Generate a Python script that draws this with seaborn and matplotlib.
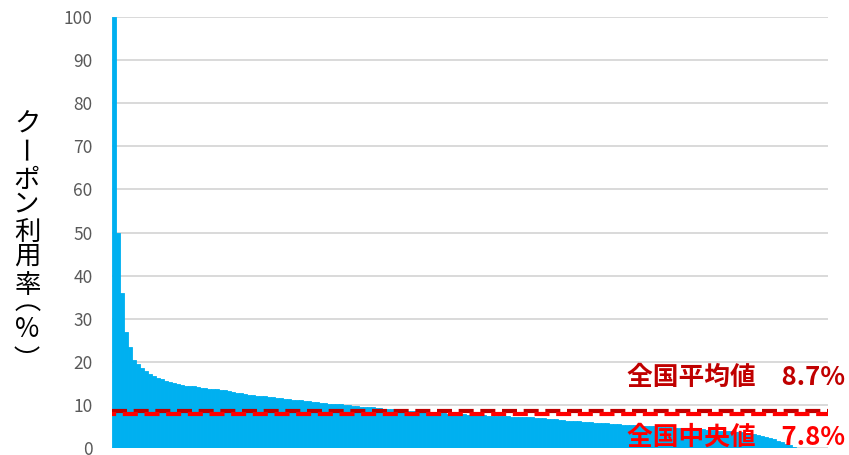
import matplotlib
matplotlib.use("Agg")
import matplotlib.pyplot as plt
import numpy as np
import pandas as pd
import seaborn as sns

# ---- data (one value per bar, sorted descending) ----
rates = [
    100, 50, 36, 27, 23.5, 20.5, 19.5, 18.6, 17.9, 17.2,
    16.8, 16.3, 16.0, 15.6, 15.3, 15.1, 14.8, 14.6, 14.5, 14.4,
    14.3, 14.2, 14.0, 13.9, 13.8, 13.7, 13.6, 13.5, 13.4, 13.2,
    13.0, 12.8, 12.7, 12.5, 12.3, 12.2, 12.1, 12.0, 11.95, 11.9,
    11.8, 11.7, 11.55, 11.45, 11.35, 11.25, 11.15, 11.1, 11.0, 10.85,
    10.7, 10.6, 10.5, 10.4, 10.3, 10.3, 10.2, 10.1, 10.0, 9.9,
    9.8, 9.7, 9.6, 9.6, 9.5, 9.4, 9.3, 9.2, 9.1, 9.0,
    8.95, 8.9, 8.8, 8.75, 8.7, 8.6, 8.55, 8.5, 8.4, 8.35,
    8.3, 8.2, 8.15, 8.1, 8.0, 7.95, 7.9, 7.85, 7.8, 7.75,
    7.7, 7.65, 7.6, 7.55, 7.5, 7.5, 7.45, 7.4, 7.4, 7.35,
    7.3, 7.3, 7.25, 7.2, 7.15, 7.1, 7.0, 6.95, 6.9, 6.8,
    6.75, 6.65, 6.55, 6.45, 6.35, 6.3, 6.2, 6.15, 6.1, 6.0,
    5.95, 5.9, 5.8, 5.75, 5.7, 5.6, 5.55, 5.5, 5.4, 5.35,
    5.3, 5.25, 5.2, 5.15, 5.1, 5.05, 5.0, 4.95, 4.9, 4.85,
    4.8, 4.7, 4.65, 4.6, 4.55, 4.5, 4.45, 4.4, 4.3, 4.25,
    4.2, 4.1, 4.05, 4.0, 3.9, 3.85, 3.8, 3.7, 3.6, 3.5,
    3.4, 3.3, 3.1, 2.9, 2.6, 2.3, 2.0, 1.7, 1.4, 1.0,
    0.7, 0.3, 0, 0, 0, 0, 0, 0, 0, 0,
]
mean_rate = 8.7
median_rate = 7.8
yticks = [0, 10, 20, 30, 40, 50, 60, 70, 80, 90, 100]
ylabel_chars = ["ク", "ー", "ポ", "ン", "利", "用", "率", "（", "%", "）"]
mean_label = "全国平均値　8.7%"
median_label = "全国中央値　7.8%"

# ---- style ----
sns.set_theme(style="white")
FAMILY = ["Noto Sans CJK JP", "DejaVu Sans"]
plt.rcParams["font.family"] = FAMILY

W, H, DPI = 849, 455, 100
LABEL_FS = 19


def ink_offset(ch, rot):
    """Offset (px, y down) of a glyph's ink centre from its text anchor."""
    f = plt.figure(figsize=(2, 2), dpi=DPI, facecolor="white")
    f.text(0.5, 0.5, ch, ha="center", va="center", rotation=rot,
           rotation_mode="anchor", fontsize=LABEL_FS, family=FAMILY,
           color="black")
    f.canvas.draw()
    buf = np.asarray(f.canvas.buffer_rgba())
    plt.close(f)
    mask = buf[..., :3].min(axis=2) < 160
    ys, xs = np.nonzero(mask)
    if len(xs) == 0:
        return 0.0, 0.0
    return (xs.min() + xs.max()) / 2 - 100, (ys.min() + ys.max()) / 2 - 100


fig = plt.figure(figsize=(W / DPI, H / DPI), dpi=DPI)
ax = fig.add_axes([112 / W, 7 / H, 716 / W, 431 / H])

df = pd.DataFrame({"rank": list(range(len(rates))), "rate": rates})
sns.barplot(data=df, x="rank", y="rate", color="#00B0F0", saturation=1,
            width=1.0, linewidth=0.6, edgecolor="#00B0F0", ax=ax, zorder=2)

ax.set_xlim(-0.5, len(rates) - 0.5)
ax.set_ylim(0, 100)
ax.set_yticks(yticks)
ax.set_yticklabels([str(t) for t in yticks])
ax.set_xticks([])
ax.set_xlabel("")
ax.set_ylabel("")
ax.grid(axis="y", color="#D9D9D9", linewidth=1.4)
ax.grid(axis="x", visible=False)
ax.set_axisbelow(True)
for s in ax.spines.values():
    s.set_visible(False)
ax.tick_params(axis="y", length=0, pad=14, labelsize=12.5, labelcolor="#595959")

# mean / median dashed lines
ax.axhline(mean_rate, color="#C00000", linewidth=3,
           linestyle=(0, (3.6, 1.6)), zorder=3)
ax.axhline(median_rate, color="#FF0000", linewidth=3,
           linestyle=(2.6, (3.6, 1.6)), zorder=3)

# annotations
fig.text(845 / W, 1 - 377 / H, mean_label, ha="right", va="center",
         fontsize=18.5, fontweight="bold", color="#C00000", zorder=5)
fig.text(845 / W, 1 - 437 / H, median_label, ha="right", va="center",
         fontsize=18.5, fontweight="bold", color="#FF0000", zorder=5)

# vertical (stacked) y-axis label: each glyph centred on its ink
char_centers = [121, 150, 177, 203, 230, 255, 283, 307, 327, 349]
rotated = {"ー", "（", "）"}
for ch, yc in zip(ylabel_chars, char_centers):
    rot = -90 if ch in rotated else 0
    dx, dy = ink_offset(ch, rot)
    tx, ty = 27.0 - dx, yc - dy
    fig.text(tx / W, 1 - ty / H, ch, ha="center", va="center",
             rotation=rot, rotation_mode="anchor",
             fontsize=LABEL_FS, color="#000000", family=FAMILY)

fig.savefig("out.png", dpi=DPI)
